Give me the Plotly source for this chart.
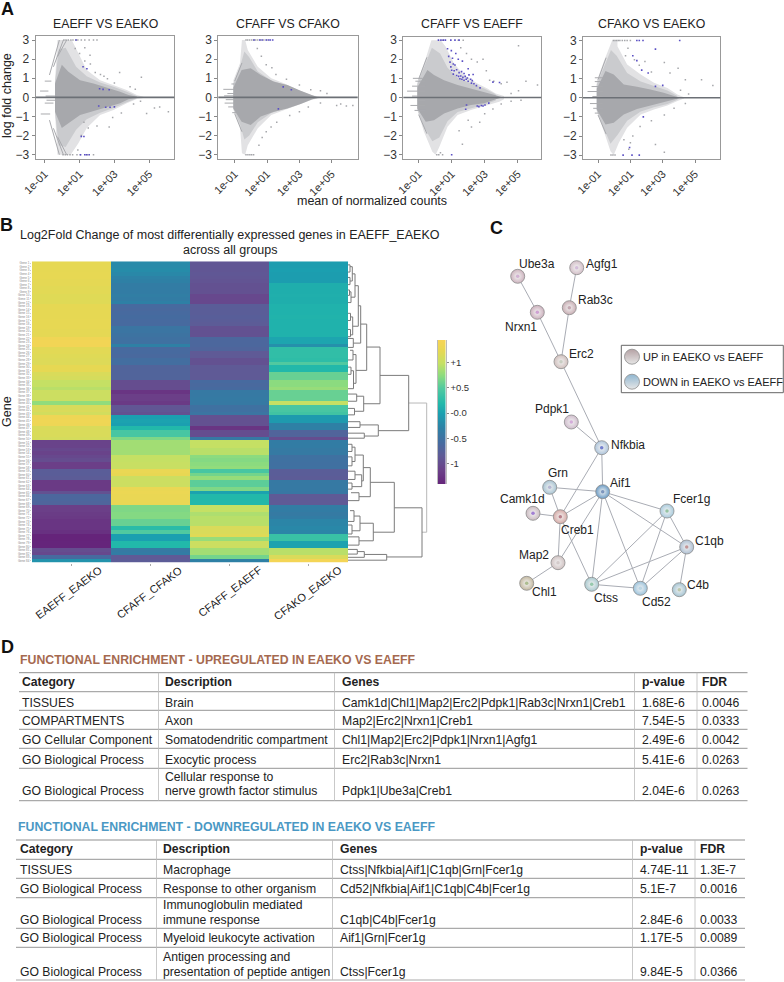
import plotly.graph_objects as go

W, H = 784, 982
FONT = "Liberation Sans"

# ---------- Panel A: MA plots ----------
MA_TITLES = ["EAEFF VS EAEKO", "CFAFF VS CFAKO", "CFAFF VS EAEFF", "CFAKO VS EAEKO"]
MA_TICKS = [0.1, 10, 1000, 100000]
MA_TICKTEXT = ["1e-01", "1e+01", "1e+03", "1e+05"]
MA_YTICKS = [-3, -2, -1, 0, 1, 2, 3]

# cloud outlines as (log10 mean count, log fold change)
P1_OUT_UP = [(-.41,.9),(-.27,3),(.55,3),(.93,2.3),(1.41,1.43),(2.18,.9),(2.95,.65),(3.71,.38),(4.29,.12),(4.67,.03)]
P1_OUT_LO = [(-.41,-.84),(-.27,-3),(.49,-3),(.93,-2.4),(1.41,-1.6),(2.18,-.92),(2.95,-.66),(3.71,-.31),(4.29,-.09),(4.67,-.03)]
P1_MID_UP = [(-.41,.8),(-.2,2.5),(.2,2.6),(.8,1.6),(1.41,1.1),(2.18,.78),(2.95,.56),(3.71,.3),(4.29,.06)]
P1_MID_LO = [(-.41,-.8),(-.2,-2.5),(.2,-2.6),(.8,-1.7),(1.41,-1.15),(2.18,-.8),(2.95,-.56),(3.71,-.26),(4.29,-.05)]
P1_COR_UP = [(-.41,.73),(-.02,1.7),(.36,1.34),(1.03,.9),(1.8,.73),(2.56,.52),(3.33,.3),(3.81,.12),(4.29,.03)]
P1_COR_LO = [(-.41,-.75),(-.02,-1.6),(.36,-1.36),(1.03,-.92),(1.8,-.75),(2.56,-.52),(3.33,-.31),(3.81,-.1),(4.29,-.03)]

P2_OUT_UP = [(-1.08,.9),(-.67,1.78),(-.55,3),(-.35,3),(-.19,2.48),(.43,1.6),(1.26,1),(2.08,.73),(2.91,.38),(3.73,.12),(4.25,.03)]
P2_OUT_LO = [(-1.08,-.66),(-.67,-1.54),(-.55,-2.93),(-.35,-3),(-.19,-2.5),(.43,-1.62),(1.26,-.92),(2.08,-.66),(2.91,-.4),(3.73,-.14),(4.25,-.03)]
P2_MID_UP = [(-1.08,.7),(-.67,1.6),(-.4,2.4),(-.1,2.1),(.43,1.35),(1.26,.88),(2.08,.66),(2.91,.34),(3.73,.08)]
P2_MID_LO = [(-1.08,-.6),(-.67,-1.4),(-.4,-2.2),(-.1,-2.0),(.43,-1.3),(1.26,-.82),(2.08,-.6),(2.91,-.36),(3.73,-.08)]
P2_COR_UP = [(-1.08,.52),(-.57,1.43),(-.01,1.52),(.61,1.17),(1.43,.82),(2.26,.65),(3.08,.35),(3.8,.12),(4.2,.02)]
P2_COR_LO = [(-1.08,-.58),(-.57,-1.27),(-.01,-1.45),(.61,-1),(1.43,-.75),(2.26,-.58),(3.08,-.35),(3.8,-.1),(4.2,-.02)]

P3_OUT_UP = [(-1.08,.82),(-.57,2.04),(-.23,3),(.34,3),(.64,2.65),(1.14,1.78),(1.75,1.17),(2.56,.73),(3.16,.47),(3.67,.21),(4.17,.07)]
P3_OUT_LO = [(-1.08,-.66),(-.68,-1.8),(-.17,-2.85),(.03,-3),(.25,-2.6),(.75,-1.54),(1.36,-.92),(2.17,-.66),(2.97,-.45),(3.88,-.23),(4.17,-.09)]
P3_MID_UP = [(-1.08,.7),(-.57,1.75),(-.2,2.6),(.3,2.3),(.75,1.55),(1.36,1.02),(2.17,.74),(2.97,.47),(3.67,.16)]
P3_MID_LO = [(-1.08,-.62),(-.68,-1.55),(-.17,-2.3),(.25,-2.1),(.75,-1.25),(1.36,-.76),(2.17,-.55),(2.97,-.38),(3.67,-.16)]
P3_COR_UP = [(-1.08,.52),(-.47,1.43),(-.07,1.17),(.54,.9),(1.36,.65),(2.17,.47),(2.97,.3),(3.67,.12),(4.0,.02)]
P3_COR_LO = [(-1.08,-.58),(-.57,-1.27),(-.07,-1.19),(.54,-.84),(1.36,-.58),(2.17,-.4),(2.97,-.31),(3.67,-.1),(4.0,-.02)]

P4_OUT_UP = [(-1.08,.87),(-.64,1.92),(-.13,3),(.2,3),(.2,2.7),(.8,1.75),(1.64,1.22),(2.46,.79),(3.29,.52),(3.91,.17),(4.32,.03)]
P4_OUT_LO = [(-1.08,-.7),(-.64,-1.75),(-.23,-2.8),(-.03,-3),(.28,-2.36),(.8,-1.57),(1.64,-.87),(2.46,-.61),(3.29,-.4),(3.91,-.17),(4.32,-.03)]
P4_MID_UP = [(-1.08,.7),(-.64,1.65),(-.2,2.5),(.15,2.2),(.8,1.3),(1.64,.85),(2.46,.62),(3.29,.38),(3.91,.1)]
P4_MID_LO = [(-1.08,-.65),(-.64,-1.6),(-.23,-2.4),(.2,-1.95),(.8,-1.2),(1.64,-.72),(2.46,-.5),(3.29,-.32),(3.91,-.1)]
P4_COR_UP = [(-1.08,.47),(-.54,1.4),(-.03,1.22),(.59,.7),(1.41,.58),(2.24,.44),(3.06,.26),(3.68,.12),(4.0,.02)]
P4_COR_LO = [(-1.08,-.61),(-.54,-1.4),(-.03,-1.31),(.59,-.87),(1.41,-.58),(2.24,-.4),(3.06,-.23),(3.68,-.09),(4.0,-.02)]

# streaks as (log10 start, log10 end, lfc start, lfc end)
P1_STREAKS = [(-.73,-.16,1.17,3),(-.5,.07,1.6,3),(-.27,.26,2.13,3),(-.73,-.16,-1.19,-3),(-.5,.07,-1.62,-3),(-.27,.26,-2.06,-3),
              (-1.27,-.79,.33,.33),(-1,-.62,.85,.85),(-1,-.5,-.3,-.3),(-1.23,-.69,-.87,-.87),(-.95,-.4,.07,.07),(-.9,-.4,-.15,-.15)]
P2_STREAKS = [(-1.7,-1.0,.42,.42),(-1.45,-1.0,.2,.2),(-1.2,-1.0,.7,.7),(-1.62,-.9,-.3,-.3),(-1.4,-.9,-.5,-.5),(-1.15,-.9,-.8,-.8),
              (-1.65,-.9,.08,.08),(-1.55,-.9,-.12,-.12),(-1.0,-.55,.85,1.8),(-1.0,-.55,-.85,-1.8)]
P3_STREAKS = [(-1.7,-.6,.33,.33),(-1.4,-.6,.59,.59),(-1.2,-.6,.85,.85),(-1.4,-.6,.07,.07),(-1.5,-.6,-.42,-.42),(-1.25,-.6,-.68,-.68),
              (-1.05,-.6,-.16,-.16),(-1.35,-.75,1.0,1.0),(-1.0,-.5,.95,2.1),(-1.0,-.5,-.9,-1.9)]
P4_STREAKS = [(-1.65,-.7,.33,.33),(-1.4,-.7,.59,.59),(-1.2,-.7,.85,.85),(-1.35,-.7,.07,.07),(-1.5,-.7,-.3,-.3),(-1.3,-.7,-.55,-.55),
              (-1.2,-.7,-.8,-.8),(-1.2,-.7,1.05,1.05),(-1.0,-.5,.95,2.1),(-1.0,-.5,-.9,-1.9)]

# single scattered genes (log10 mean count, lfc)
P1_GRAY = [(.1,3),(.22,3),(.35,3),(.5,3),(.62,3),(.78,3),(.9,3),(1.1,3),(1.3,3),(1.55,3),(1.8,3),(2,3),(.05,-3),(.18,-3),(.3,-3),(.45,-3),(.6,-3),(.85,-3),(1.05,-3),(1.45,-3),(1.8,-3),
           (1.0,2.3),(1.3,1.9),(1.62,1.75),(1.9,1.3),(2.4,1.1),(2.6,.98),(3.3,1.3),(4.55,1.05),(3.9,.55),(4.2,.42),(1.1,-2.0),(1.5,-1.6),(2.0,-1.5),(2.7,-1.55),(2.9,-1.05),(3.4,-.82),(4.1,-.35),(4.5,-.2),
           (4.85,-.85),(5.3,-.55),(6.1,-.75),(5.6,-.5),(1.25,-1.3),(.9,-2.75),(1.3,2.6),(.75,2.55),(1.6,2.2),(2.2,1.2),(3.0,.75)]
P1_BLUE = [(1.2,1.6),(1.42,1.5),(2.15,.45),(2.35,.42),(2.7,.4),(2.1,-.45),(2.5,-.52),(2.75,-.52),(3,-.5),(1.1,-2.05),(1.25,-2.05),(1.05,-3),(1.3,-3),(1.4,-3),(1.55,-3),(.8,3)]
P2_GRAY = [(-.3,3),(-.2,3),(-.08,3),(.05,3),(.17,3),(.3,3),(.42,3),(.6,3),(.8,3),(1,3),(-.3,-3),(-.18,-3),(-.06,-3),(.05,-3),(.17,-3),
           (.95,1.7),(1.3,1.55),(1.55,1.2),(2.2,.95),(3,.65),(3.7,.4),(4.3,.35),(4.7,.2),(.95,-1.8),(1.25,-1.55),(1.6,-1.3),(2.4,-.95),(3,-.75),(3.55,-.5),(4.3,-.3),
           (5.3,-.42),(5.9,-.45),(5.55,-.35),(6.3,-.42),(.4,2.55),(.65,2.15),(.5,-2.5),(.7,-2.1)]
P2_BLUE = [(.2,3),(.55,3),(.7,3),(.95,3),(1.1,3),(1.2,3),(1.35,3),(2.0,.55),(2.5,.4),(1.7,-.6)]
P3_GRAY = [(1.7,3),(1.4,3),(.45,3),(1.55,2.6),(1.9,2.3),(2.2,2.0),(2.55,1.85),(2.9,2.0),(3.1,1.4),(3.3,.9),(3.55,.85),(4,.72),(4.35,.8),(5.05,2.7),(5.5,.85),(6.2,.65),(5.05,.35),(4.6,.2),
           (1.65,-2.45),(2.2,-1.55),(2.7,-1.3),(1.45,-1.75),(2.0,-1.2),(3,-.85),(3.5,-.6),(4,-.35),(4.6,-.2),(5.2,-.15),(.45,-3),(.1,-3),(.22,-3),(.32,-2.9)]
P3_BLUE = [(.2,3),(.35,3),(.5,3),(.62,3),(.95,3),(1.2,3),(1.45,3),(.75,2.55),(.98,2.45),(.82,2.15),(1.05,2.05),(1.25,2.3),(1.4,2.0),(.9,1.85),(1.1,1.75),(.95,1.6),(1.2,1.7),
           (1.0,1.42),(1.15,1.4),(1.3,1.45),(1.45,1.3),(1.6,1.35),(1.75,1.25),(1.1,1.22),(1.3,1.15),(1.42,1.1),(1.55,1.12),(1.68,1.05),(1.82,1.1),(1.95,1.02),(2.05,1.18),(2.15,.95),(2.25,.88),(2.35,.72),
           (1.5,.98),(1.62,.95),(1.75,.9),(1.88,.95),(2.0,.85),(2.2,.75),(2.5,.62),(2.72,.5),(1.65,1.9),(2,1.5),(2.3,1.2),(3.5,.8),(3.9,.78),
           (1.9,-.4),(2.55,-.45),(2.65,-.48),(2.8,-.42),(2.9,-.45),(3.02,-.4),(3.25,-.3),(1.85,-.62),(1.0,-3)]
P4_GRAY = [(-.05,3),(.05,3),(.15,3),(.25,3),(.35,3),(.5,3),(.65,3),(.8,3),(1.0,3),(-.2,-3),(-.08,-3),(.05,-3),
           (.85,2.6),(1.25,2.0),(1.55,1.7),(1.9,1.9),(2.3,1.35),(3.1,1.85),(3.45,1.3),(3.95,1.55),(4.4,.95),(5.4,.95),(6.1,.65),(1.15,-2.0),(1.6,-1.5),(2.3,-1.2),(3.1,-.9),(3.7,-.55),(4.4,-.3),(2.55,-2.45),(3.1,-2.85),
           (.7,2.2),(.6,-2.2),(4.1,.4),(4.6,.2),(.9,-2.7),(1.0,-2.35)]
P4_BLUE = [(1.4,3),(1.55,3),(1.78,3),(4.05,3),(2.55,2.55),(1.15,2.2),(1.4,1.95),(1.7,1.45),(2.1,1.3),(2.55,.6),(3.0,.65),(.55,-3),(1.1,-3),(1.55,-3),(.95,-2.6),(1.8,-1.0)]

MA_PANELS = [
    dict(out=(P1_OUT_UP,P1_OUT_LO), mid=(P1_MID_UP,P1_MID_LO), core=(P1_COR_UP,P1_COR_LO), streaks=P1_STREAKS, gray=P1_GRAY, blue=P1_BLUE),
    dict(out=(P2_OUT_UP,P2_OUT_LO), mid=(P2_MID_UP,P2_MID_LO), core=(P2_COR_UP,P2_COR_LO), streaks=P2_STREAKS, gray=P2_GRAY, blue=P2_BLUE),
    dict(out=(P3_OUT_UP,P3_OUT_LO), mid=(P3_MID_UP,P3_MID_LO), core=(P3_COR_UP,P3_COR_LO), streaks=P3_STREAKS, gray=P3_GRAY, blue=P3_BLUE),
    dict(out=(P4_OUT_UP,P4_OUT_LO), mid=(P4_MID_UP,P4_MID_LO), core=(P4_COR_UP,P4_COR_LO), streaks=P4_STREAKS, gray=P4_GRAY, blue=P4_BLUE),
]
# pixel boxes and axis ranges of the four small plots
MA_BOX = [(35.7,174.3,36,159.3),(218.3,357.7,36,159.3),(403.3,541.3,36.7,159.3),(583,720.3,37.3,159.3)]
MA_XR = [(-1.52,6.44),(-2.01,6.6),(-1.93,6.43),(-1.93,6.56)]
MA_YR = [(-3.24,3.21),(-3.24,3.21),(-3.24,3.18),(-3.22,3.17)]

# ---------- Panel B: heatmap ----------
HEAT_COLUMNS = ["EAEFF_EAEKO", "CFAFF_CFAKO", "CFAFF_EAEFF", "CFAKO_EAEKO"]
EAEFF_EAEKO = [1.25,1.25,1.25,1.26,1.26,1.24,1.24,1.22,1.22,1.2,1.2,1.2,1.25,1.25,1.25,1.25,1.26,1.26,1.26,1.24,1.24,
               1.38,1.4,1.4,1.22,1.22,1.2,1.18,1.18,1.25,1.25,1.15,1.12,1.0,1.0,.95,1.05,1.05,1.05,.78,1.15,1.15,
               1.1,1.35,1.36,1.35,1.15,1.15,1.15,1.12,-1.1,-1.1,-1.05,-1.1,-1.05,-1.0,-1.15,-1.15,-.8,-.8,-.82,-1.2,-1.2,-1.2,-.95,
               -.65,-.65,-.68,-1.15,-1.15,-1.18,-1.2,-1.25,-1.25,-1.25,-1.28,-1.42,-1.42,-1.4,-1.4,-1.0,-1.05,-.6,-.12]
CFAFF_CFAKO = [-.2,-.2,-.18,-.22,-.28,-.3,-.35,-.35,-.35,-.33,-.35,-.3,-.6,-.62,-.6,-.58,-.6,-.6,-.45,-.45,-.48,
               -.5,-.5,-.3,-.6,-.6,-.62,-.55,-.55,-.7,-.7,-.7,-.7,-1.0,-1.0,-1.0,-1.25,-1.15,-1.15,-1.2,-.9,-.9,
               -.95,0,.02,0,.2,.45,.45,.7,.85,.85,.85,.85,1.0,1.0,1.02,1.02,1.3,1.28,1.05,1.05,1.05,1.3,1.32,
               1.3,1.3,1.3,.7,.7,.72,.72,.6,.6,.25,.5,0,0,.2,.2,-.38,-.35,-.85,-.82]
CFAFF_EAEFF = [-.9,-.9,-.9,-.88,-.9,-.92,-.95,-.95,-.95,-1.05,-1.05,-1.05,-.8,-.8,-.8,-.78,-.8,-.82,-.95,-.95,-.95,
               -.65,-.65,-.65,-.68,-.85,-.85,-.95,-.95,-.85,-.85,-.85,-.85,-.6,-.62,-.6,-.4,-.4,-.38,-.4,-.5,-.5,
               -.45,-.95,-.95,-.95,-1.25,-1.0,-1.0,-.4,1.0,1.0,.95,.95,.75,.72,.75,.78,.45,.65,.8,.55,.55,.7,.02,
               .2,.2,.2,1.0,1.0,.9,.95,.95,.95,1.15,1.15,1.2,.8,1.05,1.05,.85,.85,.65,-.3]
CFAKO_EAEKO = [-.02,-.02,0,-.02,-.02,-.02,.12,.12,.12,.13,.12,.12,.15,.15,.15,.16,.15,.15,.15,.15,.15,
               .05,.05,-.15,.3,.3,.3,.28,.5,.2,.2,.6,.6,.75,.75,.8,.6,.6,.6,1.0,.45,.45,
               .4,-.05,-.05,-.3,-.3,-.7,-.7,-1.0,-.35,-.35,-.38,-.38,-.5,-.5,-.52,-.5,-.8,-.8,-.82,-.4,-.4,-.4,-.42,
               -.85,-.85,-.85,-.35,-.35,-.38,-.35,-.25,-.25,-.22,-.25,.35,.35,.02,.02,.95,.95,1.15,1.42]
GENE_LABELS = ["Gene %d" % (i + 1) for i in range(84)]   # tiny labels are not legible in the source
HEAT_COLORS = [(-1.41,"#65247a"),(-1.15,"#6b3f88"),(-.85,"#5f5a96"),(-.6,"#476a9f"),(-.3,"#2e80a5"),(0,"#1b9fb0"),
               (.2,"#22b8aa"),(.5,"#50c9a0"),(.75,"#8bdb7f"),(1.0,"#c5e064"),(1.25,"#e6d853"),(1.45,"#f6d456")]
CB_LEVELS = [-1.41,-1.3,-1.2,-1.1,-1.0,-.9,-.8,-.7,-.6,-.5,-.4,-.3,-.2,-.1,0,.1,.2,.3,.4,.5,.6,.7,.8,.9,1.0,1.1,1.2,1.3,1.45]
CB_TICKS = [1, .5, 0, -.5, -1]
CB_TEXT = ["+1", "+0.5", "-0.0", "-0.5", "-1"]

# dendrogram: height, top row, bottom row, height of top child, height of bottom child
DENDRO_ROOT = [(78.7,39.0,75.0,60.7,74)]
DENDRO = [
 (60.7,31.3,46.7,32,30.3),(32,23.4,39.2,18.7,15.7),(18.7,17,29.9,12.7,8),(12.7,11.9,22.3,10.3,5.3),
 (10.3,6.3,17.6,7,4.7),(7,3,9.5,4.3,3),(15.7,37.1,41.3,8.7,6.5),(30.3,45.1,48.2,12,16.3),(12,44.2,45.8,0,0),(16.3,47.4,48.8,0,0),
 (74,68.2,81.9,46.3,38.7),(46.3,61.1,75,22.3,25.3),(22.3,57,65.1,15.3,11),(15.3,53.5,60.7,7,13.7),(7,51.3,55.3,4,4),(13.7,59,62.3,7,4),
 (11,64,66.2,3,0),(25.3,72.5,77.4,12,11),(12,70.5,74.6,6,4),(11,76.3,78.6,0,0),(38.7,81.2,82.8,16.3,0),(16.3,80.4,82,9.3,0),(9.3,79.8,81.1,0,0),
 (4.3,1,5,2,2),(2,.5,2.5,0,0),(2,4,6,0,0),(3,8,11,1.5,0),(1.5,7.5,9,0,0),(4.7,15,20,2.5,2.5),(2.5,14,16,0,0),(2.5,18.5,20.5,0,0),
 (5.3,21,23.5,0,0),(8,25.5,33.5,5,5.5),(5,24.3,27,2,0),(5.5,30,35,3,0),(3,29,31,0,0),(8.7,36.5,38.5,0,0),(6.5,40.5,42.3,0,0),
 (4,50.5,52.5,0,0),(4,54,56.5,0,0),(7,58,60.3,0,0),(4,61.3,63,0,0),(6,69,72,2,0),(4,73,75.5,0,0),
]

# ---------- Panel C: network ----------
NODE_NAMES = ["Ube3a","Agfg1","Nrxn1","Rab3c","Erc2","Pdpk1","Nfkbia","Grn","Aif1","Camk1d","Creb1","Fcer1g","C1qb","Map2","Chl1","Ctss","Cd52","C4b"]
NODE_X = [517.7,576.7,537.3,569.3,561,571.3,601.7,549.7,602.7,533,560.3,667,686.7,558,526.7,591.7,640.3,679.3]
NODE_Y = [276.3,267.7,312.3,307.7,361.7,422,447.7,487.3,491.7,513.3,516.7,511,547,562.7,583.3,584.3,588.3,589.7]
NODE_COLORS = ["#cdb3be","#d3bfc8","#ccb0bd","#c9aeb4","#d0bfbc","#cfbccc","#aec5dc","#a8c4d3","#6b9cc6","#ccbcc2","#d6aaa6",
               "#a9cbdc","#aebfd2","#d0c2c2","#c4b9a0","#a9c9cf","#9bc3dc","#a4c4d2"]
NODE_INNER = ["#c498c8","#c8a8d0","#c080c8","#b08a98","#b8c0b0","#c890d0","#4050c0","#a0a0c8","#5070a8","#8050c8","#a05060",
              "#70b080","#b07070","#c8bcbc","#90a868","#70b890","#a8cce0","#a8b890"]
EDGES = [("Ube3a","Nrxn1"),("Nrxn1","Erc2"),("Agfg1","Rab3c"),("Rab3c","Erc2"),("Erc2","Nfkbia"),("Pdpk1","Nfkbia"),("Nfkbia","Aif1"),("Nfkbia","Creb1"),
         ("Grn","Aif1"),("Grn","Creb1"),("Camk1d","Creb1"),("Creb1","Aif1"),("Creb1","Map2"),("Creb1","Ctss"),("Aif1","Map2"),("Aif1","Ctss"),("Aif1","Cd52"),
         ("Aif1","Fcer1g"),("Aif1","C1qb"),("Fcer1g","C1qb"),("Fcer1g","Ctss"),("Fcer1g","Cd52"),("C1qb","Ctss"),("C1qb","Cd52"),("C1qb","C4b"),("Ctss","Cd52"),("Map2","Chl1")]
NODE_LABEL_POS = {"Ube3a":(537.3,264.3),"Agfg1":(601.7,264),"Rab3c":(595,300.3),"Nrxn1":(521.3,327),"Erc2":(581.3,354.3),"Pdpk1":(551.7,409),
                  "Nfkbia":(627.7,445),"Grn":(558.3,472.7),"Aif1":(620.3,483.3),"Camk1d":(522.3,499),"Creb1":(577.3,530),"Fcer1g":(691,498.7),
                  "C1qb":(709.3,540.7),"Map2":(533.7,555),"Chl1":(544,592.3),"Ctss":(606.3,598),"Cd52":(656,602),"C4b":(697.7,584.7)}
LEGEND_TEXT = ["UP in EAEKO vs EAEFF", "DOWN in EAEKO vs EAEFF"]
LEGEND_COLORS = ["#b5a2a4", "#8fb6d0"]
LEGEND_X = [632, 632]
LEGEND_Y = [356.7, 381.7]

# ---------- Panel D: tables ----------
TABLE_HEADER = ["Category", "Description", "Genes", "p-value", "FDR"]
UP_CATEGORY = ["TISSUES", "COMPARTMENTS", "GO Cellular Component", "GO Biological Process", "GO Biological Process"]
UP_DESCRIPTION = [["Brain"], ["Axon"], ["Somatodendritic compartment"], ["Exocytic process"], ["Cellular response to", "nerve growth factor stimulus"]]
UP_GENES = ["Camk1d|Chl1|Map2|Erc2|Pdpk1|Rab3c|Nrxn1|Creb1", "Map2|Erc2|Nrxn1|Creb1", "Chl1|Map2|Erc2|Pdpk1|Nrxn1|Agfg1", "Erc2|Rab3c|Nrxn1", "Pdpk1|Ube3a|Creb1"]
UP_P = ["1.68E-6", "7.54E-5", "2.49E-6", "5.41E-6", "2.04E-6"]
UP_FDR = ["0.0046", "0.0333", "0.0042", "0.0263", "0.0263"]
DOWN_CATEGORY = ["TISSUES", "GO Biological Process", "GO Biological Process", "GO Biological Process", "GO Biological Process"]
DOWN_DESCRIPTION = [["Macrophage"], ["Response to other organism"], ["Immunoglobulin mediated", "immune response"], ["Myeloid leukocyte activation"],
                    ["Antigen processing and", "presentation of peptide antigen"]]
DOWN_GENES = ["Ctss|Nfkbia|Aif1|C1qb|Grn|Fcer1g", "Cd52|Nfkbia|Aif1|C1qb|C4b|Fcer1g", "C1qb|C4b|Fcer1g", "Aif1|Grn|Fcer1g", "Ctss|Fcer1g"]
DOWN_P = ["4.74E-11", "5.1E-7", "2.84E-6", "1.17E-5", "9.84E-5"]
DOWN_FDR = ["1.3E-7", "0.0016", "0.0033", "0.0089", "0.0366"]


def px(x):
    return x / W


def py(y):
    return 1 - y / H


fig = go.Figure()
annotations = []
shapes = []
layout = {}


def text(x, y, s, size=12.5, color="#222222", anchor="center", bold=False, angle=0, yanchor="middle"):
    annotations.append(dict(x=px(x), y=py(y), xref="paper", yref="paper", text=("<b>%s</b>" % s) if bold else s,
                            showarrow=False, xanchor=anchor, yanchor=yanchor, textangle=angle, borderpad=0, borderwidth=0,
                            font=dict(family=FONT, size=size, color=color)))


def hline(x0, x1, y, color="#aaaaaa", width=1.2):
    shapes.append(dict(type="line", xref="paper", yref="paper", x0=px(x0), x1=px(x1), y0=py(y), y1=py(y), line=dict(color=color, width=width)))


def vline(x, y0, y1, color="#bbbbbb", width=0.8):
    shapes.append(dict(type="line", xref="paper", yref="paper", x0=px(x), x1=px(x), y0=py(y0), y1=py(y1), line=dict(color=color, width=width)))


def counts(logs):
    return [10 ** v for v in logs]


# --- A
for i, p in enumerate(MA_PANELS):
    n = "" if i == 0 else str(i + 1)
    xa, ya = ("x" + n), ("y" + n)
    x0, x1, y0, y1 = MA_BOX[i]
    layout["xaxis" + n] = dict(domain=[px(x0), px(x1)], type="log", range=list(MA_XR[i]), tickmode="array", tickvals=MA_TICKS, ticktext=MA_TICKTEXT,
                               tickangle=-45, ticks="outside", ticklen=3, tickcolor="#888888", tickfont=dict(family=FONT, size=11, color="#333333"),
                               showline=True, mirror=True, linecolor="#999999", linewidth=1, showgrid=False, zeroline=False, anchor=ya)
    layout["yaxis" + n] = dict(domain=[py(y1), py(y0)], range=list(MA_YR[i]), tickmode="array", tickvals=MA_YTICKS, ticks="outside", ticklen=3,
                               tickcolor="#888888", tickfont=dict(family=FONT, size=12, color="#333333"), showline=True, mirror=True,
                               linecolor="#999999", linewidth=1, showgrid=False, zeroline=False, anchor=xa)
    for key, col in (("out", "#e2e2e4"), ("mid", "#cacbce"), ("core", "#a7a8ac")):
        up, lo = p[key]
        xs = [a for a, _ in up] + [a for a, _ in reversed(lo)]
        ys = [b for _, b in up] + [b for _, b in reversed(lo)]
        fig.add_trace(go.Scatter(x=counts(xs), y=ys, mode="lines", fill="toself", fillcolor=col, line=dict(width=0), xaxis=xa, yaxis=ya,
                                 hoverinfo="skip", showlegend=False))
    sx, sy = [], []
    for a, b, c, d in p["streaks"]:
        sx += [10 ** a, 10 ** b, None]
        sy += [c, d, None]
    fig.add_trace(go.Scatter(x=sx, y=sy, mode="lines", line=dict(color="#a9aaae", width=1), xaxis=xa, yaxis=ya, hoverinfo="skip", showlegend=False))
    fig.add_trace(go.Scatter(x=counts([a for a, _ in p["gray"]]), y=[b for _, b in p["gray"]], mode="markers", xaxis=xa, yaxis=ya,
                             marker=dict(symbol="square", size=1.5, color="#a5a6aa", line=dict(width=0)), hoverinfo="skip", showlegend=False))
    fig.add_trace(go.Scatter(x=counts([a for a, _ in p["blue"]]), y=[b for _, b in p["blue"]], mode="markers", xaxis=xa, yaxis=ya,
                             marker=dict(symbol="square", size=1.6, color="#5a4fc4", line=dict(width=0)), hoverinfo="skip", showlegend=False))
    shapes.append(dict(type="line", xref="%s domain" % xa, yref=ya, x0=0, x1=1, y0=0, y1=0, line=dict(color="#6c7076", width=1.6)))
    text((x0 + x1) / 2, 24, MA_TITLES[i], size=12.3)

text(7, 96, "log fold change", angle=-90)
text(372, 201, "mean of normalized counts")
text(8, 9, "A", size=18, bold=True, color="#111111")

# --- B
HX = (32, 348, 261.3, 562.7)
layout["xaxis5"] = dict(domain=[px(HX[0]), px(HX[1])], range=[-.5, 3.5], tickmode="array", tickvals=[0, 1, 2, 3], ticktext=["", "", "", ""], ticks="outside",
                        ticklen=2, tickcolor="#aaaaaa", showgrid=False, zeroline=False, showline=False, anchor="y5")
layout["yaxis5"] = dict(domain=[py(HX[3]), py(HX[2])], range=[83.5, -.5], tickmode="array", tickvals=list(range(84)), ticktext=GENE_LABELS,
                        ticks="outside", ticklen=1, tickcolor="#cccccc", tickfont=dict(family=FONT, size=3, color="#888888"),
                        showgrid=False, zeroline=False, showline=False, anchor="x5")
zmin, zmax = HEAT_COLORS[0][0], HEAT_COLORS[-1][0]
scale = [[(v - zmin) / (zmax - zmin), c] for v, c in HEAT_COLORS]
z = [list(r) for r in zip(EAEFF_EAEKO, CFAFF_CFAKO, CFAFF_EAEFF, CFAKO_EAEKO)]
fig.add_trace(go.Heatmap(z=z, x=[0, 1, 2, 3], y=list(range(84)), xaxis="x5", yaxis="y5", colorscale=scale, zmin=zmin, zmax=zmax, hoverinfo="skip", showscale=False))

# colour key as its own small heatmap
layout["xaxis8"] = dict(domain=[px(438), px(445.5)], range=[-.5, .5], visible=False, anchor="y8")
layout["yaxis8"] = dict(domain=[py(484), py(340)], range=[-1.41, 1.45], side="right", anchor="x8", tickmode="array", tickvals=CB_TICKS, ticktext=CB_TEXT,
                        ticks="outside", ticklen=2, tickcolor="#888888", tickfont=dict(family=FONT, size=9.5, color="#333333"),
                        showgrid=False, zeroline=False, showline=True, mirror=True, linecolor="#bbbbbb", linewidth=1)
fig.add_trace(go.Heatmap(z=[[v] for v in CB_LEVELS], x=[0], y=CB_LEVELS, xaxis="x8", yaxis="y8", colorscale=scale, zmin=zmin, zmax=zmax,
                         hoverinfo="skip", showscale=False, zsmooth="best"))

text(230, 235, "Log2Fold Change of most differentially expressed genes in EAEFF_EAEKO", size=12.5)
text(230, 250, "across all groups", size=12.5)
text(7, 412, "Gene", angle=-90)
text(6.7, 225, "B", size=18, bold=True, color="#111111")
for end_x, label in zip((105, 185, 265, 344), HEAT_COLUMNS):
    text(end_x, 563.5, label, size=11, angle=-37, anchor="right", yanchor="top")

layout["xaxis6"] = dict(domain=[px(348), px(430)], range=[0, 82], visible=False, anchor="y6")
layout["yaxis6"] = dict(domain=[py(HX[3]), py(HX[2])], range=[83.5, -.5], visible=False, anchor="x6")
for merges, colour in ((DENDRO_ROOT, "#b8b8b8"), (DENDRO, "#7b7b7b")):
    dx, dy = [], []
    for h, a, b, ca, cb in merges:
        dx += [ca, h, h, cb, None]
        dy += [a, a, b, b, None]
    fig.add_trace(go.Scatter(x=dx, y=dy, mode="lines", line=dict(color=colour, width=1), xaxis="x6", yaxis="y6", hoverinfo="skip", showlegend=False))

# --- C
layout["xaxis7"] = dict(domain=[px(490), px(784)], range=[490, 784], visible=False, anchor="y7")
layout["yaxis7"] = dict(domain=[py(610), py(255)], range=[610, 255], visible=False, anchor="x7")
idx = {n: i for i, n in enumerate(NODE_NAMES)}
ex, ey = [], []
for a, b in EDGES:
    ex += [NODE_X[idx[a]], NODE_X[idx[b]], None]
    ey += [NODE_Y[idx[a]], NODE_Y[idx[b]], None]
fig.add_trace(go.Scatter(x=ex, y=ey, mode="lines", line=dict(color="#a9acb4", width=1), xaxis="x7", yaxis="y7", hoverinfo="skip", showlegend=False))
fig.add_trace(go.Scatter(x=NODE_X, y=NODE_Y, mode="markers", xaxis="x7", yaxis="y7", hoverinfo="skip", showlegend=False,
                         marker=dict(size=14, color=NODE_COLORS, gradient=dict(type="radial", color="#f3f3f3"), line=dict(color="#8d8d8d", width=0.8))))
fig.add_trace(go.Scatter(x=NODE_X, y=NODE_Y, mode="markers", xaxis="x7", yaxis="y7", hoverinfo="skip", showlegend=False,
                         marker=dict(size=3.5, color=NODE_INNER, opacity=.7, line=dict(width=0))))
fig.add_trace(go.Scatter(x=LEGEND_X, y=LEGEND_Y, mode="markers", xaxis="x7", yaxis="y7", hoverinfo="skip", showlegend=False,
                         marker=dict(size=15, color=LEGEND_COLORS, gradient=dict(type="vertical", color="#e6e6e6"), line=dict(color="#8d8d8d", width=0.8))))
for n in NODE_NAMES:
    lx, ly = NODE_LABEL_POS[n]
    text(lx, ly, n, size=12)
shapes.append(dict(type="rect", xref="paper", yref="paper", x0=px(621.3), x1=px(783.3), y0=py(345.3), y1=py(392.7), line=dict(color="#666666", width=1)))
text(643.3, 356.7, LEGEND_TEXT[0], size=11, anchor="left")
text(643.3, 381.7, LEGEND_TEXT[1], size=11, anchor="left")
text(496.7, 227.7, "C", size=18, bold=True, color="#111111")


# --- D
def table(xl, xr, vlines, hlines, col_x, head_y, row_y, cat, desc, genes, pv, fdr):
    hline(xl, xr, hlines[0], "#8f8f8f", 1)
    for y in hlines[1:]:
        hline(xl, xr, y)
    for x in vlines:
        vline(x, hlines[0], hlines[-1])
    for x, s in zip(col_x, TABLE_HEADER):
        text(x, head_y, s, size=12.2, anchor="left", bold=True, color="#222222")
    for i, ys in enumerate(row_y):
        base = ys[-1]
        text(col_x[0], base, cat[i], size=12.2, anchor="left")
        for y, line in zip(ys, desc[i]):
            text(col_x[1], y, line, size=12.2, anchor="left")
        text(col_x[2], base, genes[i], size=12.2, anchor="left")
        text(col_x[3], base, pv[i], size=12.2, anchor="left")
        text(col_x[4], base, fdr[i], size=12.2, anchor="left")


text(20, 660, "FUNCTIONAL ENRICHMENT - UPREGULATED IN EAEKO VS EAEFF", size=12.3, bold=True, color="#a5694f", anchor="left")
table(19, 747.5, [158.5, 334.5, 634.5, 697], [672.7, 691.7, 710.3, 729.3, 748.3, 768.3, 800.7], [21.5, 165, 342, 642, 702], 682,
      [[702.7], [721.3], [739.7], [759.7], [776.7, 791.3]], UP_CATEGORY, UP_DESCRIPTION, UP_GENES, UP_P, UP_FDR)
text(18, 827, "FUNCTIONAL ENRICHMENT - DOWNREGULATED IN EAEKO VS EAEFF", size=12.3, bold=True, color="#4a98c4", anchor="left")
table(16, 745, [156.5, 332.5, 632.5, 695], [840, 859.3, 878.3, 897.7, 928.3, 947.3, 980], [19.5, 162.5, 340, 640, 700], 849.3,
      [[870], [889], [905.3, 920], [938.3], [957, 972]], DOWN_CATEGORY, DOWN_DESCRIPTION, DOWN_GENES, DOWN_P, DOWN_FDR)
text(8, 647, "D", size=18, bold=True, color="#111111")

fig.update_layout(template="none", width=W, height=H, margin=dict(l=0, r=0, t=0, b=0, autoexpand=False), paper_bgcolor="white", plot_bgcolor="white", showlegend=False,
                  annotations=annotations, shapes=shapes, font=dict(family=FONT), **layout)
fig.write_html("out.html", config=dict(displayModeBar=False),
               post_script="document.body.style.margin='0';document.body.style.overflow='hidden';")
